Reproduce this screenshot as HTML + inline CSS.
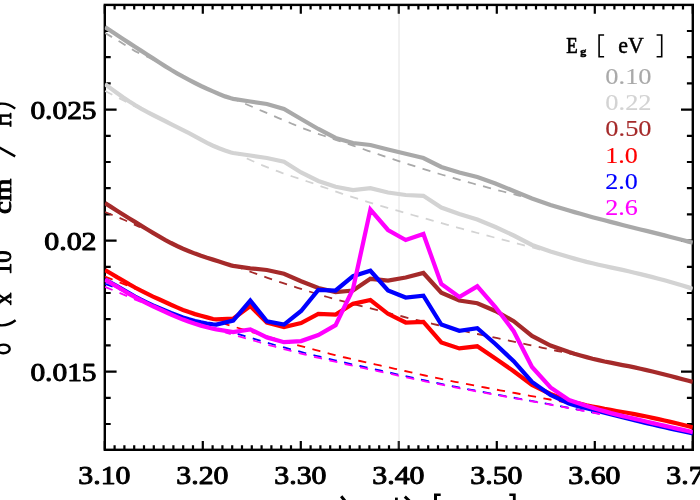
<!DOCTYPE html>
<html><head><meta charset="utf-8"><title>plot</title>
<style>html,body{margin:0;padding:0;background:#fff;width:700px;height:500px;overflow:hidden;font-family:"Liberation Serif",serif}</style>
</head><body>
<svg width="700" height="500" viewBox="0 0 700 500" style="position:absolute;left:0;top:0;will-change:transform">
<rect width="700" height="500" fill="#fff"/>
<defs><clipPath id="c"><rect x="104.8" y="4.9" width="588.0" height="444.90000000000003"/></clipPath></defs>
<line x1="399.05" y1="4.9" x2="399.05" y2="449.8" stroke="#f0f0f0" stroke-width="1.9"/>
<rect x="104.8" y="4.9" width="588.0" height="444.90000000000003" fill="none" stroke="#000" stroke-width="2.4"/>
<path d="M104.80,449.8v-8.9M104.80,4.9v8.9M114.60,449.8v-4.5M114.60,4.9v4.5M124.40,449.8v-4.5M124.40,4.9v4.5M134.20,449.8v-4.5M134.20,4.9v4.5M144.00,449.8v-4.5M144.00,4.9v4.5M153.80,449.8v-4.5M153.80,4.9v4.5M163.60,449.8v-4.5M163.60,4.9v4.5M173.40,449.8v-4.5M173.40,4.9v4.5M183.20,449.8v-4.5M183.20,4.9v4.5M193.00,449.8v-4.5M193.00,4.9v4.5M202.80,449.8v-8.9M202.80,4.9v8.9M212.60,449.8v-4.5M212.60,4.9v4.5M222.40,449.8v-4.5M222.40,4.9v4.5M232.20,449.8v-4.5M232.20,4.9v4.5M242.00,449.8v-4.5M242.00,4.9v4.5M251.80,449.8v-4.5M251.80,4.9v4.5M261.60,449.8v-4.5M261.60,4.9v4.5M271.40,449.8v-4.5M271.40,4.9v4.5M281.20,449.8v-4.5M281.20,4.9v4.5M291.00,449.8v-4.5M291.00,4.9v4.5M300.80,449.8v-8.9M300.80,4.9v8.9M310.60,449.8v-4.5M310.60,4.9v4.5M320.40,449.8v-4.5M320.40,4.9v4.5M330.20,449.8v-4.5M330.20,4.9v4.5M340.00,449.8v-4.5M340.00,4.9v4.5M349.80,449.8v-4.5M349.80,4.9v4.5M359.60,449.8v-4.5M359.60,4.9v4.5M369.40,449.8v-4.5M369.40,4.9v4.5M379.20,449.8v-4.5M379.20,4.9v4.5M389.00,449.8v-4.5M389.00,4.9v4.5M398.80,449.8v-8.9M398.80,4.9v8.9M408.60,449.8v-4.5M408.60,4.9v4.5M418.40,449.8v-4.5M418.40,4.9v4.5M428.20,449.8v-4.5M428.20,4.9v4.5M438.00,449.8v-4.5M438.00,4.9v4.5M447.80,449.8v-4.5M447.80,4.9v4.5M457.60,449.8v-4.5M457.60,4.9v4.5M467.40,449.8v-4.5M467.40,4.9v4.5M477.20,449.8v-4.5M477.20,4.9v4.5M487.00,449.8v-4.5M487.00,4.9v4.5M496.80,449.8v-8.9M496.80,4.9v8.9M506.60,449.8v-4.5M506.60,4.9v4.5M516.40,449.8v-4.5M516.40,4.9v4.5M526.20,449.8v-4.5M526.20,4.9v4.5M536.00,449.8v-4.5M536.00,4.9v4.5M545.80,449.8v-4.5M545.80,4.9v4.5M555.60,449.8v-4.5M555.60,4.9v4.5M565.40,449.8v-4.5M565.40,4.9v4.5M575.20,449.8v-4.5M575.20,4.9v4.5M585.00,449.8v-4.5M585.00,4.9v4.5M594.80,449.8v-8.9M594.80,4.9v8.9M604.60,449.8v-4.5M604.60,4.9v4.5M614.40,449.8v-4.5M614.40,4.9v4.5M624.20,449.8v-4.5M624.20,4.9v4.5M634.00,449.8v-4.5M634.00,4.9v4.5M643.80,449.8v-4.5M643.80,4.9v4.5M653.60,449.8v-4.5M653.60,4.9v4.5M663.40,449.8v-4.5M663.40,4.9v4.5M673.20,449.8v-4.5M673.20,4.9v4.5M683.00,449.8v-4.5M683.00,4.9v4.5M692.80,449.8v-8.9M692.80,4.9v8.9M104.8,31.00h5.9M692.8,31.00h-5.9M104.8,57.20h5.9M692.8,57.20h-5.9M104.8,83.40h5.9M692.8,83.40h-5.9M104.8,109.60h11.8M692.8,109.60h-11.8M104.8,135.80h5.9M692.8,135.80h-5.9M104.8,162.00h5.9M692.8,162.00h-5.9M104.8,188.20h5.9M692.8,188.20h-5.9M104.8,214.40h5.9M692.8,214.40h-5.9M104.8,240.60h11.8M692.8,240.60h-11.8M104.8,266.80h5.9M692.8,266.80h-5.9M104.8,293.00h5.9M692.8,293.00h-5.9M104.8,319.20h5.9M692.8,319.20h-5.9M104.8,345.40h5.9M692.8,345.40h-5.9M104.8,371.60h11.8M692.8,371.60h-11.8M104.8,397.80h5.9M692.8,397.80h-5.9M104.8,424.00h5.9M692.8,424.00h-5.9" stroke="#000" stroke-width="2.2" fill="none"/>
<path d="M399.05,6.1000000000000005v7.7M399.05,448.6v-7.7" stroke="#fff" stroke-opacity="0.15" stroke-width="2.2" fill="none"/>
<g clip-path="url(#c)" fill="none" stroke-linejoin="miter" stroke-linecap="butt">
<polyline points="105.0,27.0 111.0,31.0 117.0,35.0 123.0,39.0 129.0,42.9 135.0,46.8 141.0,50.6 147.0,54.5 153.0,58.4 159.0,62.3 165.0,66.1 171.0,69.8 177.0,73.3 183.0,76.7 189.0,79.9 195.0,83.0 201.0,86.0 207.0,88.8 213.0,91.4 219.0,94.0 225.0,96.4 231.0,98.3 233.2,98.8 250.3,101.5 266.9,104.0 284.0,109.0 301.1,119.0 318.3,129.0 335.6,138.0 353.0,143.0 370.4,145.0 388.0,149.5 405.7,153.8 423.4,158.0 441.3,167.0 459.3,172.5 477.3,177.0 495.4,183.5 513.7,191.0 532.0,198.5 550.5,205.0 569.0,210.5 574.5,212.1 580.5,213.8 586.5,215.5 592.5,217.2 598.5,218.8 604.5,220.3 610.5,221.9 616.5,223.4 622.5,225.0 628.5,226.5 634.5,228.0 640.5,229.5 646.5,230.9 652.5,232.4 658.5,233.9 664.5,235.4 670.5,237.0 676.5,238.5 682.5,240.0 688.5,241.6 692.8,242.7" stroke="#a9a9a9" stroke-width="4.25"/>
<polyline points="105.0,33.0 110.0,35.9 115.0,38.9 120.0,41.8 125.0,44.9 130.0,48.2 135.0,51.1 140.0,53.5 145.0,55.7 150.0,58.0 155.0,60.5 160.0,63.2 165.0,66.0" stroke="#a9a9a9" stroke-width="1.8" stroke-dasharray="8.2 7.55" stroke-dashoffset="0.00"/>
<polyline points="233.0,98.5 238.0,100.7 243.0,102.8 248.0,105.0 253.0,107.1 258.0,109.3 263.0,111.4 268.0,113.5 273.0,115.7 278.0,117.8 283.0,119.9 288.0,122.0 293.0,124.2 298.0,126.2 303.0,128.3 308.0,130.2 313.0,132.0 318.0,133.8 323.0,135.5 328.0,137.2 333.0,138.9 338.0,140.6 343.0,142.2 348.0,143.9 353.0,145.6 358.0,147.3 363.0,149.0 368.0,150.8 373.0,152.5 378.0,154.2 383.0,155.9 388.0,157.6 393.0,159.2 398.0,160.9 403.0,162.5 408.0,164.1 413.0,165.7 418.0,167.3 423.0,168.8 428.0,170.4 433.0,171.9 438.0,173.5 443.0,175.0 448.0,176.4 453.0,177.9 458.0,179.3 463.0,180.7 468.0,182.1 473.0,183.5 478.0,184.9 483.0,186.2 488.0,187.6 493.0,188.9 498.0,190.2 503.0,191.5 508.0,192.8 513.0,194.0 518.0,195.3 521.0,196.0" stroke="#a9a9a9" stroke-width="1.8" stroke-dasharray="8.2 7.55" stroke-dashoffset="2.47"/>
<polyline points="105.0,84.0 111.0,88.6 117.0,93.0 123.0,97.2 129.0,101.2 135.0,105.0 141.0,108.6 147.0,111.9 153.0,115.0 159.0,118.0 165.0,121.0 171.0,124.1 177.0,127.1 183.0,130.2 189.0,133.2 195.0,136.3 201.0,139.6 207.0,142.8 213.0,145.7 219.0,148.3 225.0,150.6 231.0,152.5 233.2,153.0 250.3,155.5 266.9,158.0 284.0,161.8 301.1,172.5 318.3,181.0 335.6,186.8 353.0,190.0 370.4,188.2 388.0,192.5 405.7,195.0 423.4,195.8 441.3,207.5 459.3,214.0 477.3,219.5 495.4,227.0 513.7,235.5 532.0,245.0 550.5,251.5 569.0,257.0 574.5,258.6 580.5,260.3 586.5,261.9 592.5,263.3 598.5,264.7 604.5,266.0 610.5,267.3 616.5,268.6 622.5,269.9 628.5,271.3 634.5,272.7 640.5,274.1 646.5,275.6 652.5,277.1 658.5,278.7 664.5,280.3 670.5,282.0 676.5,283.7 682.5,285.5 688.5,287.4 692.8,288.8" stroke="#d3d3d3" stroke-width="4.25"/>
<polyline points="105.0,91.0 110.0,93.5 115.0,96.1 120.0,98.6 125.0,101.2 130.0,103.8 135.0,106.4 140.0,108.8 145.0,111.2 150.0,113.6" stroke="#d3d3d3" stroke-width="1.8" stroke-dasharray="8.2 7.55" stroke-dashoffset="0.00"/>
<polyline points="237.5,154.0 242.5,156.4 247.5,158.7 252.5,161.0 257.5,163.1 262.5,165.3 267.5,167.3 272.5,169.3 277.5,171.2 282.5,173.1 287.5,174.8 292.5,176.5 297.5,178.2 302.5,179.8 307.5,181.5 312.5,183.2 317.5,185.0 322.5,186.8 327.5,188.5 332.5,190.3 337.5,192.1 342.5,193.8 347.5,195.5 352.5,197.1 357.5,198.7 362.5,200.3 367.5,201.8 372.5,203.4 377.5,204.9 382.5,206.4 387.5,207.8 392.5,209.3 397.5,210.7 402.5,212.2 407.5,213.6 412.5,215.0 417.5,216.4 422.5,217.8 427.5,219.2 432.5,220.6 437.5,222.0 442.5,223.4 447.5,224.8 452.5,226.2 457.5,227.6 462.5,228.9 467.5,230.3 472.5,231.6 477.5,233.0 482.5,234.3 487.5,235.7 492.5,237.0 497.5,238.3 502.5,239.6 507.5,240.9 512.5,242.3 517.5,243.6 522.5,244.9 527.5,246.2 532.5,247.5 537.5,248.9 541.0,249.8" stroke="#d3d3d3" stroke-width="1.8" stroke-dasharray="8.2 7.55" stroke-dashoffset="5.47"/>
<polyline points="105.0,203.0 111.0,206.9 117.0,210.7 123.0,214.5 129.0,218.2 135.0,221.9 141.0,225.6 147.0,229.3 153.0,232.9 159.0,236.4 165.0,239.8 171.0,243.0 177.0,246.0 183.0,248.7 189.0,251.2 195.0,253.6 201.0,255.8 207.0,257.8 213.0,259.6 219.0,261.5 225.0,263.5 231.0,265.4 233.2,265.9 250.3,268.3 266.9,270.0 284.0,273.8 301.1,281.2 318.3,288.0 335.6,292.0 353.0,290.5 370.4,278.8 388.0,280.5 405.7,277.5 423.4,273.0 441.3,292.8 459.3,300.5 477.3,303.2 495.4,311.0 513.7,321.2 532.0,336.0 550.5,345.6 569.0,352.1 574.5,353.8 580.5,355.5 586.5,357.1 592.5,358.7 598.5,360.1 604.5,361.5 610.5,362.7 616.5,363.9 622.5,365.1 628.5,366.2 634.5,367.4 640.5,368.8 646.5,370.1 652.5,371.5 658.5,373.0 664.5,374.5 670.5,376.0 676.5,377.6 682.5,379.2 688.5,380.8 692.8,382.0" stroke="#a52a2a" stroke-width="4.25"/>
<polyline points="105.0,212.0 110.0,214.0 115.0,216.0 120.0,218.1 125.0,220.3 130.0,222.6 135.0,224.9 140.0,227.3" stroke="#a52a2a" stroke-width="1.8" stroke-dasharray="8.2 7.55" stroke-dashoffset="0.00"/>
<polyline points="237.5,267.0 242.5,268.8 247.5,270.7 252.5,272.5 257.5,274.3 262.5,276.0 267.5,277.8 272.5,279.5 277.5,281.2 282.5,282.9 287.5,284.5 292.5,286.2 297.5,287.8 302.5,289.4 307.5,291.0 312.5,292.5 317.5,294.0 322.5,295.5 327.5,297.0 332.5,298.4 337.5,299.8 342.5,301.2 347.5,302.5 352.5,303.8 357.5,305.1 362.5,306.4 367.5,307.6 372.5,308.9 377.5,310.2 382.5,311.5 387.5,312.7 392.5,314.0 397.5,315.3 402.5,316.5 407.5,317.8 412.5,319.0 417.5,320.2 422.5,321.4 427.5,322.6 432.5,323.8 437.5,325.0 442.5,326.2 447.5,327.3 452.5,328.4 457.5,329.6 462.5,330.7 467.5,331.8 472.5,332.9 477.5,334.0 482.5,335.0 487.5,336.1 492.5,337.2 497.5,338.2 502.5,339.3 507.5,340.4 512.5,341.4 517.5,342.5 522.5,343.5 527.5,344.6 532.5,345.6 537.5,346.7 542.5,347.8 547.5,348.8 552.5,349.9 557.5,351.0 562.5,352.0 567.5,353.1 572.5,354.2 577.5,355.3 580.0,355.8" stroke="#a52a2a" stroke-width="1.8" stroke-dasharray="8.2 7.55" stroke-dashoffset="3.01"/>
<polyline points="105.0,270.0 111.0,273.5 117.0,277.1 123.0,280.5 129.0,284.1 135.0,287.5 141.0,290.7 147.0,293.7 153.0,296.6 159.0,299.3 165.0,302.0 171.0,304.8 177.0,307.4 183.0,309.9 189.0,312.1 195.0,314.1 201.0,315.8 207.0,317.4 213.0,319.0 216.4,319.3 233.2,318.7 250.3,306.0 266.9,322.5 284.0,327.0 301.1,323.0 318.3,313.8 335.6,314.5 353.0,303.8 370.4,300.0 388.0,313.8 405.7,322.5 423.4,321.8 441.3,342.5 459.3,348.4 477.3,346.3 495.4,358.5 513.7,371.2 532.0,385.0 550.5,394.0 569.0,401.0 574.5,402.5 580.5,403.9 586.5,405.3 592.5,406.5 598.5,407.7 604.5,408.9 610.5,409.9 616.5,411.0 622.5,412.0 628.5,413.0 634.5,414.1 640.5,415.3 646.5,416.5 652.5,417.8 658.5,419.1 664.5,420.5 670.5,421.9 676.5,423.3 682.5,424.8 688.5,426.3 692.8,427.4" stroke="#ff0000" stroke-width="4.25"/>
<polyline points="105.0,276.5 137.0,289.5" stroke="#ff0000" stroke-width="1.8" stroke-dasharray="8.2 7.55" stroke-dashoffset="0.00"/>
<polyline points="225.0,324.0 230.0,325.5 235.0,327.0 240.0,328.5 245.0,330.0 250.0,331.5 255.0,333.0 260.0,334.4 265.0,335.9 270.0,337.4 275.0,338.8 280.0,340.3 285.0,341.7 290.0,343.1 295.0,344.5 300.0,345.9 305.0,347.2 310.0,348.6 315.0,349.9 320.0,351.2 325.0,352.5 330.0,353.8 335.0,355.1 340.0,356.3 345.0,357.5 350.0,358.7 355.0,359.9 360.0,361.0 365.0,362.1 370.0,363.2 375.0,364.3 380.0,365.4 385.0,366.5 390.0,367.7 395.0,368.8 400.0,369.9 405.0,371.0 410.0,372.1 415.0,373.3 420.0,374.4 425.0,375.5 430.0,376.5 435.0,377.6 440.0,378.7 445.0,379.7 450.0,380.8 455.0,381.8 460.0,382.7 465.0,383.7 470.0,384.7 475.0,385.6 480.0,386.6 485.0,387.5 490.0,388.5 495.0,389.4 500.0,390.3 505.0,391.2 510.0,392.1 515.0,393.0 520.0,394.0 525.0,394.9 530.0,395.8 535.0,396.7 540.0,397.6 545.0,398.6 550.0,399.5 555.0,400.4 560.0,401.4 565.0,402.3 570.0,403.3" stroke="#ff0000" stroke-width="1.8" stroke-dasharray="8.2 7.55" stroke-dashoffset="3.53"/>
<polyline points="105.0,279.5 111.0,282.8 117.0,286.1 123.0,289.5 129.0,293.0 135.0,296.5 141.0,299.7 147.0,302.6 153.0,305.4 159.0,308.0 165.0,310.5 171.0,313.0 177.0,315.3 183.0,317.5 189.0,319.4 195.0,321.0 201.0,322.4 207.0,323.5 213.0,324.4 216.4,324.6 233.2,320.6 250.3,300.6 266.9,321.4 284.0,324.6 301.1,311.0 318.3,290.0 335.6,290.5 353.0,276.2 370.4,270.8 388.0,290.5 405.7,297.5 423.4,295.7 441.3,324.5 459.3,330.8 477.3,328.2 495.4,344.0 513.7,361.2 532.0,382.0 550.5,395.0 569.0,403.5 574.5,405.2 580.5,406.8 586.5,408.3 592.5,409.7 598.5,411.1 604.5,412.6 610.5,414.2 616.5,415.7 622.5,417.3 628.5,418.8 634.5,420.3 640.5,421.7 646.5,423.1 652.5,424.5 658.5,425.9 664.5,427.3 670.5,428.6 676.5,429.9 682.5,431.2 688.5,432.5 692.8,433.4" stroke="#0000ff" stroke-width="4.25"/>
<polyline points="105.0,283.8 110.0,285.6 115.0,287.6 120.0,289.6 125.0,291.7 130.0,293.8 135.0,296.1 140.0,298.5" stroke="#0000ff" stroke-width="1.8" stroke-dasharray="8.2 7.55" stroke-dashoffset="0.00"/>
<polyline points="225.0,330.2 230.0,331.7 235.0,333.2 240.0,334.6 245.0,336.1 250.0,337.6 255.0,339.1 260.0,340.6 265.0,342.1 270.0,343.5 275.0,345.0 280.0,346.3 285.0,347.7 290.0,349.1 295.0,350.4 300.0,351.7 305.0,353.0 310.0,354.2 315.0,355.5 320.0,356.7 325.0,357.9 330.0,359.1 335.0,360.3 340.0,361.5 345.0,362.6 350.0,363.8 355.0,364.9 360.0,366.0 365.0,367.1 370.0,368.2 375.0,369.3 380.0,370.4 385.0,371.6 390.0,372.7 395.0,373.8 400.0,374.9 405.0,376.0 410.0,377.1 415.0,378.3 420.0,379.4 425.0,380.4 430.0,381.5 435.0,382.6 440.0,383.6 445.0,384.7 450.0,385.7 455.0,386.7 460.0,387.7 465.0,388.6 470.0,389.6 475.0,390.5 480.0,391.4 485.0,392.4 490.0,393.3 495.0,394.3 500.0,395.2 505.0,396.1 510.0,397.0 515.0,398.0 520.0,398.9 525.0,399.8 530.0,400.7 535.0,401.6 540.0,402.5 545.0,403.4 550.0,404.4 555.0,405.3 560.0,406.2 565.0,407.1 570.0,408.1 575.0,409.0 580.0,410.0 585.0,410.9 590.0,411.9 595.0,412.8 600.0,413.8 602.0,414.2" stroke="#0000ff" stroke-width="1.8" stroke-dasharray="8.2 7.55" stroke-dashoffset="2.57"/>
<polyline points="105.0,279.6 111.0,283.2 117.0,286.7 123.0,290.3 129.0,293.8 135.0,297.2 141.0,300.4 147.0,303.4 153.0,306.3 159.0,309.0 165.0,311.7 171.0,314.5 177.0,317.1 183.0,319.6 189.0,321.8 195.0,323.8 201.0,325.6 207.0,327.2 213.0,328.7 216.4,329.4 233.2,332.1 250.3,329.4 266.9,337.4 284.0,342.2 301.1,341.1 318.3,335.0 335.6,325.2 353.0,289.0 370.4,209.6 388.0,230.0 405.7,240.0 423.4,234.0 441.3,284.0 459.3,297.0 477.3,286.3 495.4,307.0 513.7,331.2 532.0,367.0 550.5,387.5 569.0,400.0 587.6,406.2 593.0,407.9 599.0,409.7 605.0,411.4 611.0,413.1 617.0,414.6 623.0,416.1 629.0,417.5 635.0,418.9 641.0,420.3 647.0,421.7 653.0,423.1 659.0,424.5 665.0,425.9 671.0,427.3 677.0,428.6 683.0,429.9 689.0,431.3 692.8,432.1" stroke="#ff00ff" stroke-width="4.25"/>
<polyline points="105.0,286.8 141.0,302.0" stroke="#ff00ff" stroke-width="1.8" stroke-dasharray="8.2 7.55" stroke-dashoffset="0.00"/>
<polyline points="225.0,332.4 230.0,333.8 235.0,335.2 240.0,336.7 245.0,338.1 250.0,339.6 255.0,341.0 260.0,342.5 265.0,343.9 270.0,345.4 275.0,346.7 280.0,348.1 285.0,349.4 290.0,350.7 295.0,352.0 300.0,353.3 305.0,354.5 310.0,355.8 315.0,357.0 320.0,358.2 325.0,359.4 330.0,360.5 335.0,361.7 340.0,362.8 345.0,364.0 350.0,365.1 355.0,366.2 360.0,367.3 365.0,368.4 370.0,369.5 375.0,370.5 380.0,371.6 385.0,372.7 390.0,373.8 395.0,374.9 400.0,376.0 405.0,377.1 410.0,378.1 415.0,379.2 420.0,380.3 425.0,381.3 430.0,382.4 435.0,383.4 440.0,384.4 445.0,385.4 450.0,386.4 455.0,387.4 460.0,388.3 465.0,389.2 470.0,390.2 475.0,391.1 480.0,392.0 485.0,392.9 490.0,393.8 495.0,394.7 500.0,395.6 505.0,396.5 510.0,397.4 515.0,398.3 520.0,399.2 525.0,400.1 530.0,401.0 535.0,401.9 540.0,402.8 545.0,403.7 550.0,404.6 555.0,405.5 560.0,406.4 565.0,407.4 570.0,408.3 575.0,409.2 580.0,410.2 585.0,411.1 590.0,412.1 595.0,413.0 600.0,414.0 602.0,414.4" stroke="#ff00ff" stroke-width="1.8" stroke-dasharray="8.2 7.55" stroke-dashoffset="2.18"/>
</g>
<g font-family="'Liberation Serif', serif">
<text x="78.30000000000001" y="484.0" font-size="24.8" font-weight="normal" text-anchor="start" fill="#000" textLength="52.2" lengthAdjust="spacingAndGlyphs" stroke="#000" stroke-width="0.95" stroke-linejoin="round">3.10</text>
<text x="176.29999999999998" y="484.0" font-size="24.8" font-weight="normal" text-anchor="start" fill="#000" textLength="52.2" lengthAdjust="spacingAndGlyphs" stroke="#000" stroke-width="0.95" stroke-linejoin="round">3.20</text>
<text x="274.3" y="484.0" font-size="24.8" font-weight="normal" text-anchor="start" fill="#000" textLength="52.2" lengthAdjust="spacingAndGlyphs" stroke="#000" stroke-width="0.95" stroke-linejoin="round">3.30</text>
<text x="372.3" y="484.0" font-size="24.8" font-weight="normal" text-anchor="start" fill="#000" textLength="52.2" lengthAdjust="spacingAndGlyphs" stroke="#000" stroke-width="0.95" stroke-linejoin="round">3.40</text>
<text x="470.3" y="484.0" font-size="24.8" font-weight="normal" text-anchor="start" fill="#000" textLength="52.2" lengthAdjust="spacingAndGlyphs" stroke="#000" stroke-width="0.95" stroke-linejoin="round">3.50</text>
<text x="568.3000000000001" y="484.0" font-size="24.8" font-weight="normal" text-anchor="start" fill="#000" textLength="52.2" lengthAdjust="spacingAndGlyphs" stroke="#000" stroke-width="0.95" stroke-linejoin="round">3.60</text>
<text x="666.3000000000001" y="484.0" font-size="24.8" font-weight="normal" text-anchor="start" fill="#000" textLength="52.2" lengthAdjust="spacingAndGlyphs" stroke="#000" stroke-width="0.95" stroke-linejoin="round">3.70</text>
<text x="30.39999999999999" y="119.19999999999999" font-size="24.8" font-weight="normal" text-anchor="start" fill="#000" textLength="66.2" lengthAdjust="spacingAndGlyphs" stroke="#000" stroke-width="0.95" stroke-linejoin="round">0.025</text>
<text x="44.199999999999996" y="250.2" font-size="24.8" font-weight="normal" text-anchor="start" fill="#000" textLength="52.4" lengthAdjust="spacingAndGlyphs" stroke="#000" stroke-width="0.95" stroke-linejoin="round">0.02</text>
<text x="30.39999999999999" y="381.20000000000005" font-size="24.8" font-weight="normal" text-anchor="start" fill="#000" textLength="66.2" lengthAdjust="spacingAndGlyphs" stroke="#000" stroke-width="0.95" stroke-linejoin="round">0.015</text>
<text x="566.3" y="52.6" font-size="22.5" font-weight="normal" text-anchor="start" fill="#000" textLength="11.5" lengthAdjust="spacingAndGlyphs" stroke="#000" stroke-width="0.7" stroke-linejoin="round">E</text>
<text x="580.2" y="54.8" font-size="10.5" font-weight="bold" text-anchor="start" fill="#000" textLength="6.0" lengthAdjust="spacingAndGlyphs" stroke="#000" stroke-width="0.5" stroke-linejoin="round">g</text>
<text x="618.3" y="52.6" font-size="22.5" font-weight="normal" text-anchor="start" fill="#000" textLength="25.5" lengthAdjust="spacingAndGlyphs" stroke="#000" stroke-width="0.5" stroke-linejoin="round">eV</text>
<path d="M604.1,35H599.1V56.8H604.1M656.6,35H661.7V56.8H656.6" fill="none" stroke="#000" stroke-width="1.6"/>
<text x="605.3" y="83.9" font-size="23.2" font-weight="normal" text-anchor="start" fill="#a9a9a9" textLength="46.3" lengthAdjust="spacingAndGlyphs" stroke="#a9a9a9" stroke-width="0.12" stroke-linejoin="round">0.10</text>
<text x="605.3" y="110.10000000000001" font-size="23.2" font-weight="normal" text-anchor="start" fill="#d3d3d3" textLength="46.3" lengthAdjust="spacingAndGlyphs" stroke="#d3d3d3" stroke-width="0.12" stroke-linejoin="round">0.22</text>
<text x="605.3" y="136.3" font-size="23.2" font-weight="normal" text-anchor="start" fill="#a52a2a" textLength="46.3" lengthAdjust="spacingAndGlyphs" stroke="#a52a2a" stroke-width="0.12" stroke-linejoin="round">0.50</text>
<text x="605.3" y="162.5" font-size="23.2" font-weight="normal" text-anchor="start" fill="#ff0000" textLength="32.6" lengthAdjust="spacingAndGlyphs" stroke="#ff0000" stroke-width="0.12" stroke-linejoin="round">1.0</text>
<text x="605.3" y="188.7" font-size="23.2" font-weight="normal" text-anchor="start" fill="#0000ff" textLength="32.6" lengthAdjust="spacingAndGlyphs" stroke="#0000ff" stroke-width="0.12" stroke-linejoin="round">2.0</text>
<text x="605.3" y="214.9" font-size="23.2" font-weight="normal" text-anchor="start" fill="#ff00ff" textLength="32.6" lengthAdjust="spacingAndGlyphs" stroke="#ff00ff" stroke-width="0.12" stroke-linejoin="round">2.6</text>
<g transform="translate(10.9,354.3) rotate(-90)"><text x="49.3" y="0" font-size="24.8" font-weight="normal" text-anchor="start" fill="#000" textLength="12.4" lengthAdjust="spacingAndGlyphs" stroke="#000" stroke-width="0.95" stroke-linejoin="round">x</text><text x="79.3" y="0" font-size="24.8" font-weight="normal" text-anchor="start" fill="#000" textLength="24.5" lengthAdjust="spacingAndGlyphs" stroke="#000" stroke-width="0.95" stroke-linejoin="round">10</text><text x="140.2" y="0" font-size="24.8" font-weight="normal" text-anchor="start" fill="#000" textLength="35.5" lengthAdjust="spacingAndGlyphs" stroke="#000" stroke-width="0.95" stroke-linejoin="round">cm</text><text x="227.4" y="0" font-size="30" font-weight="normal" text-anchor="start" fill="#000" textLength="14.4" lengthAdjust="spacingAndGlyphs" stroke="#000" stroke-width="1.0" stroke-linejoin="round">H</text></g>
<g fill="none" stroke="#000" stroke-width="2.4"><ellipse cx="3.4" cy="348.9" rx="6.3" ry="4.3"/><path d="M-3,324.8Q7,327 15.6,320.3"/><path d="M-3,104.2Q7,102 15.2,108.6"/><path d="M15.2,156.4L-2,146.8"/></g>
<path d="M434,493.6h6.7v2.4h-3.7v5h-3zM509.3,493.6h6.4v8h-2.8v-5.6h-3.6z" fill="#000"/>
<path d="M341.2,496.3L345,501M404.8,496.6L409.5,501" stroke="#000" stroke-width="3.0" fill="none"/>
<rect x="395" y="497.6" width="2.8" height="3" fill="#000"/>
</g>
</svg>
</body></html>
